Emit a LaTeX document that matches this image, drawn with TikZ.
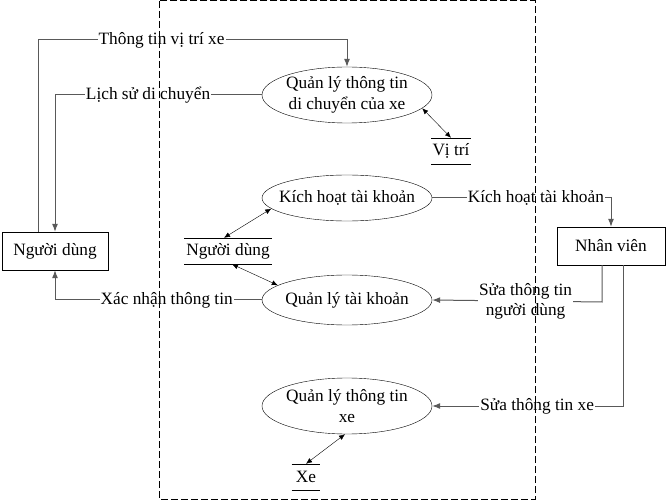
\documentclass[tikz,border=0pt]{standalone}
\usepackage{fontspec}
\setmainfont{Liberation Serif}
\usepackage{tikz}
\usetikzlibrary{positioning, shapes.geometric, arrows.meta}

\begin{document}
\begin{tikzpicture}[x=1pt,y=-1pt,>={Latex[length=8pt,width=6pt]},
		font=\fontsize{17.3}{20.5}\selectfont,
		proc/.style = {draw, ellipse, fill=white, inner sep=-15pt, minimum width=170pt, align=center},
		ent/.style = {draw, rectangle, fill=white, minimum width=106pt, minimum height=38pt},
		store/.style = {inner xsep=1pt, minimum height=26pt},
		flow/.style = {line width=1pt, draw=black!65},
		lbl/.style = {fill=white, inner sep=1pt}]
		\useasboundingbox (0,0) rectangle (666,502);
		% processes
		\node[proc, minimum height=56pt] (qlvt) at (347,95) {Quản lý thông tin\\di chuyển của xe};
		\node[proc, minimum height=46pt] (kh) at (347,198) {Kích hoạt tài khoản};
		\node[proc, minimum height=50pt] (qltk) at (347,300) {Quản lý tài khoản};
		\node[proc, minimum height=56pt] (qlx) at (347,406) {Quản lý thông tin\\xe};
		% entities
		\node[ent] (nd) at (55,251) {Người dùng};
		\node[ent, minimum width=108pt] (nv) at (611,246) {Nhân viên};
		% data stores
		\node[store] (vitri) at (451,151) {Vị trí};
		\node[store, inner xsep=2pt] (ndkho) at (228,251) {Người dùng};
		\node[store, inner xsep=4pt] (xe) at (306,477) {Xe};
		\foreach \s in {vitri,ndkho,xe}
			\draw (\s.north west) -- (\s.north east) (\s.south west) -- (\s.south east);
		% flows
		\draw[flow, ->] ([xshift=-17pt]nd.north) -- (38,40) -- node[lbl, pos=0.4] {Thông tin vị trí xe} (347,40) -- (qlvt.north);
		\draw[flow, ->] (qlvt.west) -- node[lbl, pos=0.55] {Lịch sử di chuyển} (55,95) -- (nd.north);
		\draw[flow, ->] (qltk.west) -- node[lbl, pos=0.46] {Xác nhận thông tin} (55,300) -- (nd.south);
		\draw[flow, ->] (kh.east) -- node[lbl, pos=0.58] {Kích hoạt tài khoản} (611,198) -- (nv.north);
		\draw[flow, ->] ([xshift=-9pt]nv.south) -- (602,302) -- node[lbl, pos=0.45, align=center] {Sửa thông tin\\người dùng} (qltk.east);
		\draw[flow, ->] ([xshift=12pt]nv.south) -- (623,406) -- node[lbl, pos=0.45] {Sửa thông tin xe} (qlx.east);
		% data links
		\draw[<->, >={Latex[length=6pt,width=5pt]}] (qlvt.-10) -- (vitri.north);
		\draw[<->, >={Latex[length=6pt,width=5pt]}] ([xshift=-4pt]ndkho.north) -- (kh.188);
		\draw[<->, >={Latex[length=6pt,width=5pt]}] ([xshift=4pt]ndkho.south) -- (qltk.168);
		\draw[<->, >={Latex[length=6pt,width=5pt]}] ([xshift=-2pt]qlx.south) -- (xe.north);
		% system boundary
		\draw[line width=1pt, dash pattern=on 7pt off 3pt] (159,1) rectangle (535,499);
	\end{tikzpicture}
\end{document}
